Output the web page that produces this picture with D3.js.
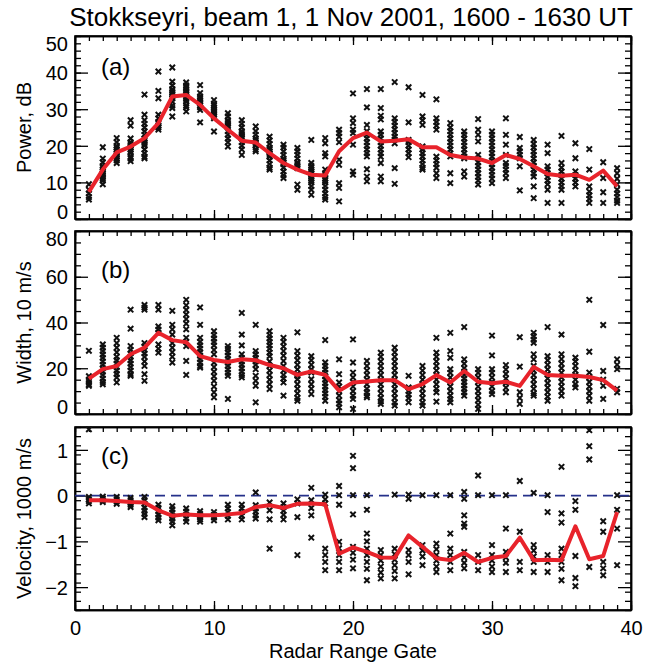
<!DOCTYPE html>
<html>
<head>
<meta charset="utf-8">
<title>Stokkseyri, beam 1</title>
<style>
  body { margin: 0; background: #fff; }
  svg { font-family: "Liberation Sans", Arial, Helvetica, sans-serif; }
  .axis path { fill: none; stroke: #000; stroke-width: 1.5px; }
  .axis line { stroke: #000; stroke-width: 1.3px; }
  .axis text { font-size: 20px; fill: #000; }
  .cross { fill: none; stroke: #111; stroke-width: 2px; }
  .median { fill: none; stroke: #e8232b; stroke-width: 4px; stroke-linejoin: round; }
</style>
</head>
<body>
<script src="https://cdn.jsdelivr.net/npm/d3@7/dist/d3.min.js"></script>
<script>

var gates = [1,2,3,4,5,6,7,8,9,10,11,12,13,14,15,16,17,18,19,20,
             21,22,23,24,25,26,27,28,29,30,31,32,33,34,35,36,37,38,39];

// median (red) curves
var powerMed = [7.4,13.5,18.2,19.8,22.1,26.2,33.5,33.9,31.2,27.5,24.4,21.4,20.9,18,15.3,13.5,12.1,11.9,18.5,22.1,
                23.6,21.2,21.4,21.8,19.6,19.6,17.5,16.8,16.5,15.3,17.5,16.4,14.4,12.3,11.8,12.1,10.7,13.2,8.9];
var widthMed = [15.5,19.6,21,26.1,29,35.5,32.3,31.4,25.3,23.6,22.7,23.9,23.5,21.4,20,17.1,18.6,17.1,10.2,13.8,
                14.2,14.8,14.8,10.9,13.1,17,13.8,18.8,14.1,13.4,14.1,12.3,20.6,17.1,16.7,16.7,16.2,14.8,10.2];
var velMed = [-0.10,-0.10,-0.12,-0.14,-0.15,-0.32,-0.44,-0.41,-0.43,-0.43,-0.41,-0.38,-0.25,-0.21,-0.27,-0.18,-0.17,-0.19,-1.27,-1.13,
              -1.23,-1.35,-1.36,-0.87,-1.12,-1.37,-1.41,-1.25,-1.45,-1.36,-1.32,-0.92,-1.41,-1.40,-1.41,-0.67,-1.39,-1.32,-0.36];

// individual samples per gate (crosses)
var powerPts = [
  [9.5,8,7,6,5.3],
  [19.6,16.5,15.5,14.5,14,13.5,13,12.5,12,11.5,11,10.5,9.5],
  [22.1,21,20,19.5,19,18.5,18,17.5,17,16.5,16,15.3],
  [27,25.5,22,21,20.5,20,19.5,19,18.5,18,17,16.5,15.8],
  [34,28.5,27,26,25,24,23,22,21.5,21,20.5,20,19,18,17,16.6],
  [40.3,35,33,28.5,27.5,26.5,26,25.5,25,24.4],
  [41.4,37.5,36.5,35.5,35,34.5,34,33.5,33,32,31,30.3,28],
  [37.3,36.5,36,35.5,35,34.5,34,33.5,33,32.5,32,31,30.5,29.4],
  [36.6,34.4,33.5,33,32.5,32,31.5,31,30.5,29.8,26.4],
  [32.5,31.5,31,30.5,30,29.5,29,28.5,28,27.5,23.9],
  [28.9,28,27,26.5,26,25.5,25,24,23,22,21,19.8],
  [27,26,25,24,23.5,23,22.5,22,21,20,19,17.5],
  [25.3,24,23,22,21.5,21,20.5,20,19,18.5],
  [22.5,21.5,20.5,19.5,19,18.5,18,17.5,17,16,15,14,13.5],
  [20.3,19.5,18.5,17.5,16.5,16,15.5,15,14,13,12,11.2],
  [19.4,18.5,17.5,16.5,15.5,15,14.5,13.9,9.4,8],
  [21.6,15.3,14.5,14,13.5,13,12.5,12,11.5,11,10.5,10,9,8,6.6],
  [22.1,20.7,18,17.1,13.5,12.5,12,11,10.5,10,9,8,7,6,5.3],
  [24.4,23.5,22.5,21,16.2,14.8,9.8,8.5,4.8],
  [34.3,27.5,26.2,24.4,23.5,20.3,13,12.1],
  [35.5,30.5,25.7,24,23,22,21,20,19,18,17.1,13.6,11.6,10.3],
  [35.5,30.3,28.2,27.2,23.9,23,22,21,20,19,18,17,15.3,11.6,10.3],
  [37.4,27.5,26.5,25.5,24.5,23.5,22.5,21.7,20.7,13.9,9.6],
  [36,26.4,21.6,21,20,19,18,16.9],
  [33.9,28,27,25.7,19.8,19,18,17,16,15,14,13.5],
  [32.7,27.5,26.5,25.5,24.4,17,16,15,14,12.5,11.2],
  [26.2,25,24,23,22,21,20,19,18,17.1,12.5,9.8],
  [23.9,23,22,21,20,19,18,17,16.6,13,11.6],
  [27.3,24.4,23,21.2,17.5,16.5,15.5,14.5,13.5,12.5,11.5,10.5,9.4],
  [23.9,23,22,21,20,19,18,17,16,15,14,13,12,11,9.8],
  [27.5,23,20.3,17.5,15.3,14.5,13.5,12.5,11.2],
  [22.4,19.4,18.5,17.5,16.6,14.4,7.8],
  [21.6,20.5,19.5,18.5,17.5,16.5,15.5,14.5,13.5,12.5,11.6,8.9,5.7],
  [20.3,18,14.4,13.5,12.5,11.5,10.5,9.5,8,4.4],
  [22.7,15.3,14,13,12,11,10,9,8,4.4],
  [20.7,16.6,13,12,11,10,8.9],
  [19.1,13.5,8.9,7.5,6.5,5.5,4.4],
  [15.5,11.2,7.3,4.4],
  [13.9,12.5,11,9.5,8,7,6,5,4.4]
];
var widthPts = [
  [27.6,16.5,15,14,13,12.3],
  [30.4,29,27.5,26,24.5,23,21.5,20,18.5,17,15.5,14,13],
  [33.3,31,29,27,25,23.5,22,20.5,19,17.5,16,13.8],
  [45.6,37.3,29.7,28,26.5,25,23.5,22,20.5,19,17.5,16.7],
  [47.7,46.5,45.6,31,29.5,28,26.5,25,23,21,17.4,14.5],
  [47.7,45.6,38.3,36.9,35.5,30.4,28.5,26.8],
  [45.1,39,37,34.7,31,29,27,25,22.5],
  [49.9,47.5,45.5,43.5,41.5,39.5,37,33.3,31.5,29.7,23.2,17.1],
  [46.6,39,33.3,31.5,30,28.5,27,25.5,24,22.5,21,20.3],
  [36.2,34.5,33,31.5,30,28,26.1,22.5,20.5,18.5,16.5,14.5,12,9.5,7.3],
  [29.7,28.5,27,25.5,24,22.5,21,19.5,18,16.7,6.6],
  [44.2,34.7,30,26.1,24.5,23,21.5,20,18.5,17,16],
  [39,27.5,26,24.5,23,21.5,19.6,16.7,14.5,12.3,5.1],
  [36.2,34.5,33,31.5,30,28.5,26.8,25.3,23,21,19,17,15,13,10.9],
  [33.3,31.5,29.5,27.5,25.5,23.2,21,19,17,15.5,13.8,8],
  [35.7,27.5,25.5,23.5,21.5,19.5,17.5,16.7,15.2,13,11,9,7,5.8],
  [25.3,23.5,21.5,19.5,18.1,15.2,13,11,8.7],
  [32.3,22.5,21,19.5,18,16.5,15,13.5,12,10.5,9,7.5,5.8],
  [23.9,17.4,13.8,12,10,8,6,4.5,2.9],
  [32.6,22.5,18.1,16,14,12,10,8,6.6,2.2],
  [23.2,21,19,17,15,13,11,9.5,8,7.3],
  [26.8,25,23,21,19,17,15,13,11,9,7,5.5,4.4],
  [29,27,25,23,21,19,17,15,13,11,9,7,5,3.7],
  [16.7,11.6,10,8.5,7,5.1],
  [21,19,17,15,13,11,9,7,5,3.7],
  [33.3,26.8,25,23,21,19,17,15,13,11,9.5,5.4],
  [35.5,27.5,24.6,19.6,18,16,14,12,10,8,6.5,5.1],
  [38,23.9,22,20,18.5,17,15.5,14,12.5,11,9.5,8],
  [19.6,18,16,14,12,10,8,6,4,2.2],
  [34.3,25.6,19.6,18,16,14,12,10,8.7],
  [21.4,19.5,17.5,15.5,13.5,11.5,9.5],
  [33.6,20.7,9.5,7,4.4],
  [35.5,34,32.5,31.1,26.1,23.9,21,19,17,15,13,11,9,8],
  [38,25.3,23.5,21.5,19.5,17.5,15.5,13.5,11.5,9.5,7.5,5.8],
  [34.7,26.1,24,22,20,18,16,14,12,10,8],
  [24.6,23,21,19,17,15,13,11.6],
  [49.9,27.2,18.1,16,14,12,10,8,5.8],
  [38.9,18.8,15,12.3,6.6],
  [23.9,21.5,19.6,11,9.5]
];
var velPts = [
  [1.45,-0.03,-0.08,-0.12,-0.17],
  [-0.02,-0.06,-0.1,-0.14],
  [-0.03,-0.08,-0.13,-0.18],
  [-0.05,-0.1,-0.15,-0.2,-0.25],
  [-0.03,-0.1,-0.18,-0.26,-0.33,-0.4,-0.47],
  [-0.2,-0.27,-0.34,-0.41,-0.48,-0.54],
  [-0.23,-0.3,-0.37,-0.44,-0.5,-0.57,-0.65],
  [-0.28,-0.35,-0.42,-0.5,-0.57],
  [-0.34,-0.4,-0.46,-0.52,-0.57],
  [-0.36,-0.42,-0.48,-0.54],
  [-0.2,-0.28,-0.36,-0.44,-0.52],
  [-0.2,-0.28,-0.36,-0.44,-0.52],
  [0.07,-0.21,-0.28,-0.35,-0.43,-0.5],
  [-0.15,-0.32,-0.52,-1.16],
  [-0.17,-0.25,-0.33,-0.42,-0.52],
  [-0.08,-0.17,-0.47,-1.3],
  [0.17,-0.1,-0.27,-0.43,-0.92],
  [0.02,-0.08,-0.17,-1.16,-1.3,-1.45,-1.63],
  [0.21,0.01,-0.2,-1.01,-1.15,-1.3,-1.45,-1.63],
  [0.87,0.6,0.01,-0.41,-1.12,-1.25,-1.4,-1.59],
  [0.01,-0.31,-0.83,-1.0,-1.16,-1.3,-1.45,-1.6,-1.85],
  [-1.19,-1.3,-1.42,-1.55,-1.68,-1.81],
  [0.02,-1.16,-1.28,-1.4,-1.52,-1.65,-1.81],
  [0.02,-0.07,-1.19,-1.3,-1.45,-1.72],
  [0.01,-1.08,-1.2,-1.33,-1.52],
  [0.01,-1.05,-1.17,-1.3,-1.42,-1.55,-1.67],
  [0.01,-0.83,-1.16,-1.3,-1.45,-1.63],
  [0.08,-0.07,-0.43,-0.61,-0.68,-1.23,-1.35,-1.47,-1.59],
  [0.44,0.01,-1.3,-1.45,-1.63],
  [0.01,-1.08,-1.3,-1.42,-1.55,-1.67],
  [0.01,-0.72,-1.23,-1.35,-1.47,-1.67],
  [0.32,-0.79,-1.45,-1.63],
  [0.06,-1.08,-1.2,-1.33,-1.45,-1.67],
  [0.01,-0.36,-1.3,-1.45,-1.67],
  [0.63,-0.39,-0.59,-1.16,-1.3,-1.45,-1.6,-1.85],
  [-0.12,-0.31,-1.32,-1.8,-1.98],
  [1.43,1.08,0.79,-1.56],
  [-0.56,-0.79,-1.45,-1.59,-1.74],
  [0.01,-0.31,-0.72,-1.52]
];

var xTicks = [0, 10, 20, 30, 40];

var width = 653, height = 665;
var left = 75, right = 631;

var panels = [
  {tag: "(a)", title: "Power, dB", med: powerMed, pts: powerPts, top: 36, bottom: 219,
   domain: [0, 50], ticks: [0, 10, 20, 30, 40, 50], minor: 2, endLabels: true, tagY: 67},
  {tag: "(b)", title: "Width, 10 m/s", med: widthMed, pts: widthPts, top: 231, bottom: 414,
   domain: [0, 80], ticks: [0, 20, 40, 60, 80], minor: 5, endLabels: true, tagY: 270},
  {tag: "(c)", title: "Velocity, 1000 m/s", med: velMed, pts: velPts, top: 427, bottom: 610,
   domain: [-2.5, 1.5], ticks: [-2, -1, 0, 1], minor: 0.2, endLabels: false, tagY: 456, zero: true}
];

var svg = d3.select("body").append("svg")
    .attr("width", width)
    .attr("height", height);

var x = d3.scaleLinear().domain([0, 40]).range([left, right]);

svg.append("text")
    .attr("x", 351).attr("y", 26)
    .attr("text-anchor", "middle")
    .style("font-size", "26px")
    .text("Stokkseyri, beam 1, 1 Nov 2001, 1600 - 1630 UT");

function range(a, b, step) {
  var out = [], n = Math.round((b - a) / step);
  for (var i = 0; i <= n; i++) out.push(+(a + i * step).toFixed(4));
  return out;
}

panels.forEach(function (p, k) {
  var y = d3.scaleLinear().domain(p.domain).range([p.bottom, p.top]);
  var h = p.bottom - p.top;
  var g = svg.append("g");
  var minorY = range(p.domain[0], p.domain[1], p.minor);
  var minorX = range(0, 40, 1);
  var last = k === panels.length - 1;

  // minor ticks
  g.append("g").attr("class", "axis").attr("transform", "translate(" + left + ",0)")
      .call(d3.axisLeft(y).tickValues(minorY).tickSizeInner(-6).tickSizeOuter(0).tickFormat(""));
  g.append("g").attr("class", "axis").attr("transform", "translate(" + right + ",0)")
      .call(d3.axisRight(y).tickValues(minorY).tickSizeInner(-6).tickSizeOuter(0).tickFormat(""));
  g.append("g").attr("class", "axis").attr("transform", "translate(0," + p.top + ")")
      .call(d3.axisTop(x).tickValues(minorX).tickSizeInner(-5).tickSizeOuter(0).tickFormat(""));
  g.append("g").attr("class", "axis").attr("transform", "translate(0," + p.bottom + ")")
      .call(d3.axisBottom(x).tickValues(minorX).tickSizeInner(-5).tickSizeOuter(0).tickFormat(""));

  // major ticks + labels
  var yl = g.append("g").attr("class", "axis").attr("transform", "translate(" + left + ",0)")
      .call(d3.axisLeft(y).tickValues(p.ticks).tickSizeInner(-13).tickSizeOuter(0)
        .tickFormat(d3.format("d")));
  yl.selectAll(".tick text").attr("x", -7).attr("dy", function (d) {
    if (p.endLabels && d === p.domain[1]) return "0.72em";
    if (p.endLabels && d === p.domain[0]) return "-0.02em";
    return "0.36em";
  });
  g.append("g").attr("class", "axis").attr("transform", "translate(" + right + ",0)")
      .call(d3.axisRight(y).tickValues(p.ticks).tickSizeInner(-13).tickSizeOuter(0).tickFormat(""));
  g.append("g").attr("class", "axis").attr("transform", "translate(0," + p.top + ")")
      .call(d3.axisTop(x).tickValues(xTicks).tickSizeInner(-9).tickSizeOuter(0).tickFormat(""));
  var xb = g.append("g").attr("class", "axis").attr("transform", "translate(0," + p.bottom + ")")
      .call(d3.axisBottom(x).tickValues(xTicks).tickSizeInner(-9).tickSizeOuter(0)
        .tickFormat(last ? d3.format("d") : ""));
  xb.selectAll(".tick text").attr("y", 11);

  // frame
  g.append("rect")
      .attr("x", left).attr("y", p.top)
      .attr("width", right - left).attr("height", h)
      .attr("fill", "none").attr("stroke", "#000").attr("stroke-width", 1.6);

  if (p.zero) {
    g.append("line")
        .attr("x1", x(0)).attr("x2", x(40))
        .attr("y1", y(0)).attr("y2", y(0))
        .attr("stroke", "#25308a").attr("stroke-width", 1.6)
        .attr("stroke-dasharray", "10,6");
  }

  // crosses
  var s = 2.7;
  var flat = [];
  p.pts.forEach(function (vals, i) {
    vals.forEach(function (v) { flat.push({g: gates[i], v: v}); });
  });
  g.append("g").selectAll("path").data(flat).join("path")
      .attr("class", "cross")
      .attr("d", function (d) {
        var cx = x(d.g), cy = y(d.v);
        return "M" + (cx - s) + "," + (cy - s) + "L" + (cx + s) + "," + (cy + s) +
               "M" + (cx - s) + "," + (cy + s) + "L" + (cx + s) + "," + (cy - s);
      });

  var line = d3.line()
      .x(function (d, i) { return x(gates[i]); })
      .y(function (d) { return y(d); });
  g.append("path").datum(p.med).attr("class", "median").attr("d", line);

  g.append("text")
      .attr("x", 101).attr("y", p.tagY).attr("dy", "0.35em")
      .style("font-size", "24px")
      .text(p.tag);

  g.append("text")
      .attr("transform", "translate(31," + (p.top + h / 2) + ") rotate(-90)")
      .attr("text-anchor", "middle")
      .style("font-size", "20px")
      .text(p.title);
});

svg.append("text")
    .attr("x", 353).attr("y", 658)
    .attr("text-anchor", "middle")
    .style("font-size", "20px")
    .text("Radar Range Gate");

</script>
</body>
</html>
